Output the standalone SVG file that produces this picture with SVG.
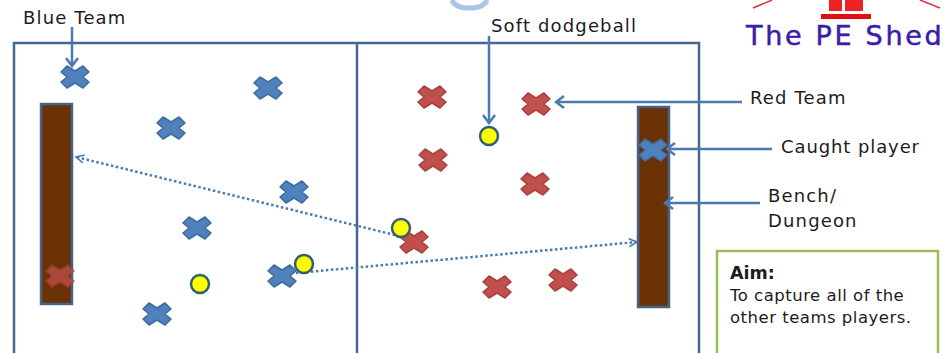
<svg xmlns="http://www.w3.org/2000/svg" width="945" height="353" viewBox="0 0 945 353">
<style>
text{font-family:"DejaVu Sans","Liberation Sans",sans-serif;fill:#1c1c1c}
.lbl{font-size:18px;letter-spacing:1.15px}
.aim{font-size:16.5px;letter-spacing:.5px}
.court{fill:none;stroke:#44688f;stroke-width:2.5}
.bench{fill:#6b3205;stroke:#44648c;stroke-width:2.5}
.ball{fill:#ffff00;stroke:#2f5f72;stroke-width:2.5}
.blue{fill:#4f81bd;stroke:#3f6a9c;stroke-width:1.5;stroke-linejoin:round}
.red{fill:#c0504d;stroke:#a8413f;stroke-width:1.5;stroke-linejoin:round}
.solid{fill:none;stroke:#4a7ab0;stroke-width:2.5;marker-end:url(#a)}
.dot{fill:none;stroke:#4a7ab0;stroke-width:2.5;stroke-dasharray:2.5 2.5;marker-end:url(#b)}
</style>
<defs>
<marker id="a" markerUnits="userSpaceOnUse" markerWidth="14" markerHeight="16" refX="12" refY="8" orient="auto"><path d="M4 2L12 8L4 14" fill="none" stroke="#4a7ab0" stroke-width="2.5"/></marker>
<marker id="b" markerUnits="userSpaceOnUse" markerWidth="14" markerHeight="14" refX="12" refY="7" orient="auto"><path d="M4 3L12 7L4 11" fill="none" stroke="#4a7ab0" stroke-width="1.6"/></marker>
<path id="x" d="M-8-11L0-6L8-11L14-5L8 0L14 5L8 11L0 6L-8 11L-14 5L-8 0L-14-5Z"/>
</defs>
<rect width="945" height="353" fill="#fff"/>
<path id="title-fragment" d="M452 0Q455 8 469 8Q484 8 487 0" fill="none" stroke="#a9c4e6" stroke-width="5"/>
<g id="logo">
<path d="M753 8L772 0M940 8L920 0" stroke="#e0303a" stroke-width="1.5" fill="none"/>
<path d="M829 0H842V11H829ZM845 0H863V11H845Z" fill="#ee2222"/>
<rect x="821" y="14" width="50" height="5" fill="#e01010"/>
<text x="746" y="45" style="font-family:'DejaVu Sans',sans-serif;font-size:27px;fill:#3a1da8;letter-spacing:2.7px;stroke:#3a1da8;stroke-width:.5">The PE Shed</text>
</g>
<g id="court"><path class="court" d="M14 353V43H699V353M357 43V353"/></g>
<g id="bench-left"><rect class="bench" x="41" y="104" width="31" height="200"/></g>
<g id="bench-right"><rect class="bench" x="638" y="107" width="31" height="200"/></g>
<g id="blue-team">
<use href="#x" class="blue" x="75" y="77"/>
<use href="#x" class="blue" x="268" y="88"/>
<use href="#x" class="blue" x="171" y="128"/>
<use href="#x" class="blue" x="294" y="192"/>
<use href="#x" class="blue" x="197" y="228"/>
<use href="#x" class="blue" x="282" y="276"/>
<use href="#x" class="blue" x="157" y="314"/>
<use href="#x" class="blue" x="653" y="150"/>
</g>
<g id="red-team">
<use href="#x" class="red" x="432" y="97"/>
<use href="#x" class="red" x="536" y="104"/>
<use href="#x" class="red" x="433" y="160"/>
<use href="#x" class="red" x="535" y="184"/>
<use href="#x" class="red" x="414" y="242"/>
<use href="#x" class="red" x="497" y="287"/>
<use href="#x" class="red" x="563" y="280"/>
<use href="#x" class="red" x="60" y="276" opacity=".75"/>
</g>
<g id="connectors">
<path class="solid" d="M72 27V66"/>
<path class="solid" d="M489 36V123"/>
<path class="solid" d="M742 102H556"/>
<path class="solid" d="M772 149H667"/>
<path class="solid" d="M760 203H665"/>
<path class="dot" d="M395 235L76 157"/>
<path class="dot" d="M296 273L637 242"/>
</g>
<g id="balls">
<circle class="ball" cx="489" cy="136" r="9"/>
<circle class="ball" cx="401" cy="228" r="9"/>
<circle class="ball" cx="304" cy="264" r="9"/>
<circle class="ball" cx="200" cy="284" r="9"/>
</g>
<g id="labels">
<text class="lbl" x="23" y="24">Blue Team</text>
<text class="lbl" x="491" y="32">Soft dodgeball</text>
<text class="lbl" x="750" y="104">Red Team</text>
<text class="lbl" x="781" y="153" style="letter-spacing:.9px">Caught player</text>
<text class="lbl" x="768" y="202">Bench/</text>
<text class="lbl" x="768" y="227">Dungeon</text>
</g>
<g id="aim-box">
<path d="M717 353V251H938V353" fill="none" stroke="#9bbb59" stroke-width="2.5"/>
<text x="730" y="279" style="font-size:17.5px;font-weight:bold">Aim:</text>
<text class="aim" x="730" y="301">To capture all of the</text>
<text class="aim" x="730" y="323">other teams players.</text>
</g>
</svg>
